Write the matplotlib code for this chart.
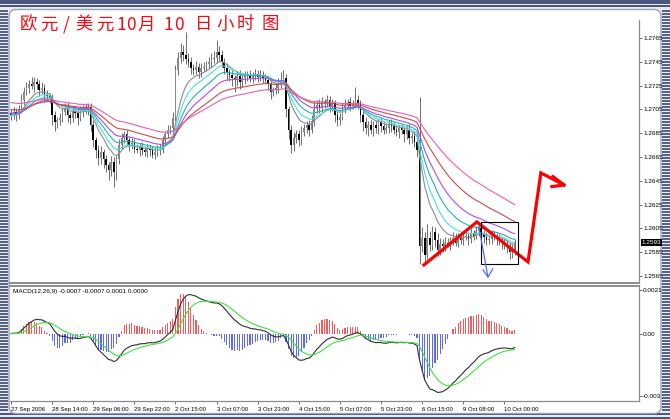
import numpy as np
import pandas as pd
import matplotlib
matplotlib.use("Agg")
import matplotlib.pyplot as plt
import matplotlib.transforms as mtransforms
from matplotlib.patches import FancyBboxPatch, Rectangle

plt.rcParams['font.family'] = ['Liberation Sans Narrow', 'Liberation Sans', 'DejaVu Sans']

# hourly EUR/USD closes, 27 Sep 22:00 .. 10 Oct 04:00
closes = [
    1.2700, 1.2703, 1.2700, 1.2705, 1.2713, 1.2720, 1.2723, 1.2726, 1.2725, 1.2728, 1.2726, 1.2721, 1.2723, 1.2717, 1.2716, 1.2715,
    1.2700, 1.2694, 1.2696, 1.2698, 1.2703, 1.2706, 1.2700, 1.2698, 1.2704, 1.2702, 1.2698, 1.2703, 1.2706, 1.2704, 1.2707, 1.2692,
    1.2679, 1.2671, 1.2664, 1.2669, 1.2663, 1.2658, 1.2654, 1.2661, 1.2652, 1.2663, 1.2675, 1.2681, 1.2684, 1.2679, 1.2675, 1.2677,
    1.2672, 1.2671, 1.2674, 1.2671, 1.2669, 1.2672, 1.2671, 1.2667, 1.2669, 1.2672, 1.2671, 1.2679, 1.2684, 1.2688, 1.2689, 1.2698,
    1.2738, 1.2748, 1.2753, 1.2751, 1.2747, 1.2745, 1.2740, 1.2738, 1.2741, 1.2736, 1.2740, 1.2741, 1.2743, 1.2745, 1.2747, 1.2748,
    1.2753, 1.2751, 1.2745, 1.2740, 1.2736, 1.2734, 1.2731, 1.2730, 1.2733, 1.2728, 1.2731, 1.2733, 1.2734, 1.2731, 1.2733, 1.2735,
    1.2732, 1.2734, 1.2731, 1.2730, 1.2726, 1.2720, 1.2721, 1.2723, 1.2726, 1.2730, 1.2731, 1.2705, 1.2688, 1.2675, 1.2681, 1.2684,
    1.2679, 1.2686, 1.2689, 1.2692, 1.2688, 1.2695, 1.2705, 1.2709, 1.2706, 1.2711, 1.2710, 1.2713, 1.2708, 1.2710, 1.2700, 1.2696,
    1.2699, 1.2706, 1.2709, 1.2711, 1.2708, 1.2710, 1.2713, 1.2710, 1.2700, 1.2694, 1.2689, 1.2692, 1.2688, 1.2692, 1.2689, 1.2694,
    1.2691, 1.2688, 1.2689, 1.2693, 1.2691, 1.2688, 1.2686, 1.2689, 1.2688, 1.2684, 1.2688, 1.2681, 1.2683, 1.2678, 1.2671, 1.2590,
    1.2597, 1.2583, 1.2597, 1.2591, 1.2602, 1.2595, 1.2587, 1.2592, 1.2590, 1.2593, 1.2592, 1.2595, 1.2597, 1.2593, 1.2598, 1.2595,
    1.2598, 1.2599, 1.2596, 1.2601, 1.2599, 1.2603, 1.2605, 1.2601, 1.2598, 1.2595, 1.2596, 1.2599, 1.2598, 1.2596, 1.2595, 1.2593,
    1.2592, 1.2589, 1.2585, 1.2587, 1.2593,
]
first_open = 1.2702

# wick lengths beyond the body, in pips
wick_up = [
    3, 4, 3, 4, 5, 4, 5, 4, 6, 4, 3, 4, 5, 3, 4, 3,
    3, 4, 3, 4, 3, 4, 5, 3, 4, 3, 4, 5, 3, 4, 3, 3,
    4, 3, 4, 5, 3, 4, 3, 5, 4, 3, 5, 4, 3, 4, 3, 4,
    3, 4, 3, 4, 3, 4, 3, 3, 4, 3, 4, 4, 3, 4, 3, 5,
    4, 5, 8, 6, 19, 5, 4, 3, 5, 3, 4, 4, 3, 4, 5, 6,
    10, 5, 4, 3, 4, 3, 4, 3, 4, 5, 3, 4, 3, 4, 3, 4,
    3, 4, 3, 4, 3, 4, 3, 4, 5, 6, 7, 4, 3, 4, 5, 4,
    4, 5, 4, 3, 4, 5, 6, 4, 5, 4, 3, 4, 3, 4, 3, 4,
    3, 4, 5, 3, 4, 3, 11, 4, 3, 4, 5, 3, 4, 3, 4, 3,
    4, 3, 4, 3, 4, 3, 4, 3, 4, 3, 4, 5, 3, 4, 3, 44,
    9, 5, 12, 6, 5, 4, 6, 5, 4, 5, 4, 3, 5, 4, 3, 4,
    3, 4, 3, 4, 3, 4, 3, 4, 3, 4, 3, 5, 4, 3, 4, 3,
    4, 3, 4, 5, 3,
]
wick_dn = [
    4, 3, 5, 3, 3, 4, 3, 4, 3, 5, 4, 5, 3, 6, 4, 5,
    8, 7, 5, 4, 4, 3, 6, 5, 4, 4, 6, 3, 4, 3, 4, 5,
    6, 7, 6, 5, 7, 6, 8, 5, 12, 6, 4, 3, 4, 4, 5, 3,
    4, 3, 5, 4, 3, 4, 5, 3, 4, 3, 4, 3, 4, 3, 4, 4,
    3, 4, 4, 5, 4, 4, 5, 4, 3, 5, 4, 3, 4, 3, 4, 3,
    4, 5, 4, 5, 6, 5, 6, 10, 5, 6, 4, 5, 4, 3, 4, 3,
    4, 3, 4, 3, 5, 6, 4, 3, 4, 3, 4, 6, 8, 7, 5, 4,
    5, 4, 3, 4, 5, 3, 4, 3, 4, 3, 4, 3, 5, 4, 6, 5,
    4, 3, 4, 3, 4, 3, 4, 5, 6, 7, 5, 6, 4, 5, 4, 5,
    5, 4, 3, 4, 5, 4, 3, 5, 4, 6, 4, 5, 4, 5, 6, 15,
    5, 6, 4, 5, 4, 6, 5, 4, 5, 4, 3, 5, 4, 3, 4, 3,
    4, 3, 5, 3, 4, 3, 4, 3, 5, 4, 3, 4, 3, 5, 4, 5,
    4, 5, 6, 5, 4,
]

# moving averages: period, value at the left edge, colour
ma_periods = [10, 14, 20, 28, 42, 62]
ma_seeds = [1.2700, 1.2700, 1.2701, 1.2702, 1.2705, 1.2711]
ma_colors = ['#8c8c8c', '#48e0e0', '#20b4b4', '#b04cf0', '#d04a4a', '#e262b2']

time_ticks = [0, 16, 32, 48, 64, 80, 96, 112, 128, 144, 160, 176, 192]
time_labels = ['27 Sep 2006', '28 Sep 14:00', '29 Sep 06:00', '29 Sep 22:00', '2 Oct 15:00',
               '3 Oct 07:00', '3 Oct 23:00', '4 Oct 15:00', '5 Oct 07:00', '5 Oct 23:00',
               '6 Oct 15:00', '9 Oct 08:00', '10 Oct 00:00']
price_ticks = [1.2565, 1.2585, 1.2605, 1.2625, 1.2645, 1.2665, 1.2685, 1.2705, 1.2725, 1.2745, 1.2765]
macd_ticks = [0.0021, 0.0, -0.003]
macd_tick_labels = ['0.0021', '0.00', '-0.003']

# hand drawn annotations (bar index, price)
wave_x = [160.7, 181.3, 201.2, 206.2, 215.2]
wave_y = [1.25743, 1.26104, 1.25768, 1.26516, 1.26415]
wave_head_x = [210.9, 215.2, 210.5]
wave_head_y = [1.26485, 1.26415, 1.26401]
box_x = [182.9, 197.3]
box_y = [1.25751, 1.26104]
blue_x = [182.1, 185.6]
blue_y = [1.26062, 1.25642]
blue_head_x = [183.7, 185.6, 187.5]
blue_head_y = [1.25701, 1.25642, 1.25709]

title_chars = ['欧', '元', '/', '美', '元', '1', '0', '月', '1', '0', '日', '小', '时', '图']
title_x = [28.5, 48.5, 66, 83.5, 105, 121, 131, 146, 168, 178.5, 203.5, 225.5, 245.5, 270.5]

# ---- derived series
n = len(closes)
idx = np.arange(n)
opens = [first_open] + closes[:-1]
highs = [max(o, c) + u * 0.0001 for o, c, u in zip(opens, closes, wick_up)]
lows = [min(o, c) - d * 0.0001 for o, c, d in zip(opens, closes, wick_dn)]


def ema_from(seed, values, period):
    alpha = 2.0 / (period + 1)
    out = []
    e = seed
    for v in values:
        e = e + alpha * (v - e)
        out.append(e)
    return out


s = pd.Series(closes)
dif = s.ewm(span=12, adjust=False).mean() - s.ewm(span=26, adjust=False).mean()
dea = dif.ewm(span=9, adjust=False).mean()
hist = 2 * (dif - dea)

# ---- figure and window decoration
W, H = 670, 419
fig = plt.figure(figsize=(W / 100, H / 100), dpi=100)
bg = fig.add_axes([0, 0, 1, 1])
bg.set_xlim(0, W)
bg.set_ylim(H, 0)
bg.axis('off')

navy = '#3b4872'
bg.add_patch(Rectangle((0, 0), W, H, color='#e9ecf3', zorder=0))
for yy in (0.8, 3.4, 6.2):
    bg.hlines(yy, 0, W, color=navy, lw=1.3, zorder=1)
for yy in np.arange(11, 412, 3):
    bg.hlines(yy, 0, 8, color=navy, lw=1.2, zorder=1)
    bg.hlines(yy, 662, W, color=navy, lw=1.2, zorder=1)
for yy in (414.0, 417.5):
    bg.hlines(yy, 0, W, color=navy, lw=1.3, zorder=1)
bg.add_patch(FancyBboxPatch((9, 9.5), 652, 404, boxstyle='round,pad=0,rounding_size=7',
                            fc='white', ec='#9aa3b5', lw=1.0, zorder=2))

for ch, xx in zip(title_chars, title_x):
    bg.text(xx, 24.5, ch, color='#f20a14', fontsize=12.5, ha='center', va='center',
            family=['Noto Sans CJK SC', 'DejaVu Sans'], zorder=5)

# ---- price panel
ax = fig.add_axes([10 / W, (H - 283) / H, 629 / W, 263 / H])
ax.set_facecolor('none')
ax.set_xlim(-0.4, 244.4)
ax.set_ylim(1.25591, 1.27801)

bull = [c >= o for o, c in zip(opens, closes)]
ax.vlines(idx, lows, highs, color='#6e6e6e', lw=0.7, zorder=2)
body_h = [c - o for o, c in zip(opens, closes)]
body_c = ['#8a8a8a' if b else 'black' for b in bull]
ax.bar(idx, body_h, bottom=opens, width=0.62, color=body_c, linewidth=0, zorder=3)

for p, seed, col in zip(ma_periods, ma_seeds, ma_colors):
    ax.plot(idx, ema_from(seed, closes, p), color=col, lw=0.8, zorder=4)

ax.plot(wave_x, wave_y, color='#ff0000', lw=2.3, solid_joinstyle='miter', zorder=6)
ax.plot(wave_head_x, wave_head_y, color='#ff0000', lw=2.3, zorder=6)
ax.add_patch(Rectangle((box_x[0], box_y[0]), box_x[1] - box_x[0], box_y[1] - box_y[0],
                       fill=False, ec='black', lw=0.8, zorder=6))
ax.plot(blue_x, blue_y, color='#5a64ff', lw=0.9, zorder=6)
ax.plot(blue_head_x, blue_head_y, color='#5a64ff', lw=0.9, zorder=6)

for sp in ('left', 'top'):
    ax.spines[sp].set_visible(False)
ax.spines['bottom'].set_color('#8c8c8c')
ax.spines['bottom'].set_linewidth(1.4)
ax.spines['right'].set_color('#8c8c8c')
ax.spines['right'].set_linewidth(0.9)
ax.yaxis.tick_right()
ax.set_yticks(price_ticks)
ax.set_yticklabels([f'{v:.4f}' for v in price_ticks])
ax.tick_params(axis='y', length=2, width=0.6, pad=1, labelsize=4.6, color='#555555')
ax.set_xticks([])

trans = mtransforms.blended_transform_factory(ax.transAxes, ax.transData)
ax.text(1.004, closes[-1], f'{closes[-1]:.4f}', transform=trans, fontsize=4.6, color='white',
        va='center', ha='left', bbox=dict(fc='black', ec='none', pad=0.7), zorder=7)

# ---- MACD panel
mx = fig.add_axes([10 / W, (H - 401) / H, 629 / W, 115 / H])
mx.set_facecolor('none')
mx.set_xlim(-0.4, 244.4)
mx.set_ylim(-0.00324, 0.00229)
hcol = ['#f25c5c' if v >= 0 else '#5e68f2' for v in hist]
mx.bar(idx, hist, width=0.45, color=hcol, linewidth=0, zorder=2)
mx.plot(idx, dif, color='#303030', lw=0.8, zorder=3)
mx.plot(idx, dea, color='#3fe23f', lw=0.8, zorder=3)

mx.text(0.004, 0.955, 'MACD(12,26,9) -0.0007 -0.0007 0.0001 0.0000', transform=mx.transAxes,
        fontsize=4.6, color='black', ha='left', va='center')

mx.spines['left'].set_visible(False)
mx.spines['top'].set_color('#8c8c8c')
mx.spines['top'].set_linewidth(1.4)
for sp in ('right', 'bottom'):
    mx.spines[sp].set_color('#8c8c8c')
    mx.spines[sp].set_linewidth(0.9)
mx.yaxis.tick_right()
mx.set_yticks(macd_ticks)
mx.set_yticklabels(macd_tick_labels)
mx.tick_params(axis='y', length=2, width=0.6, pad=1, labelsize=4.6, color='#555555')
mx.set_xticks(time_ticks)
mx.set_xticklabels(time_labels, ha='left')
mx.tick_params(axis='x', length=2.5, width=0.6, pad=1.5, labelsize=4.3, color='#555555')

fig.savefig('out.png', dpi=100)
print('saved out.png')
